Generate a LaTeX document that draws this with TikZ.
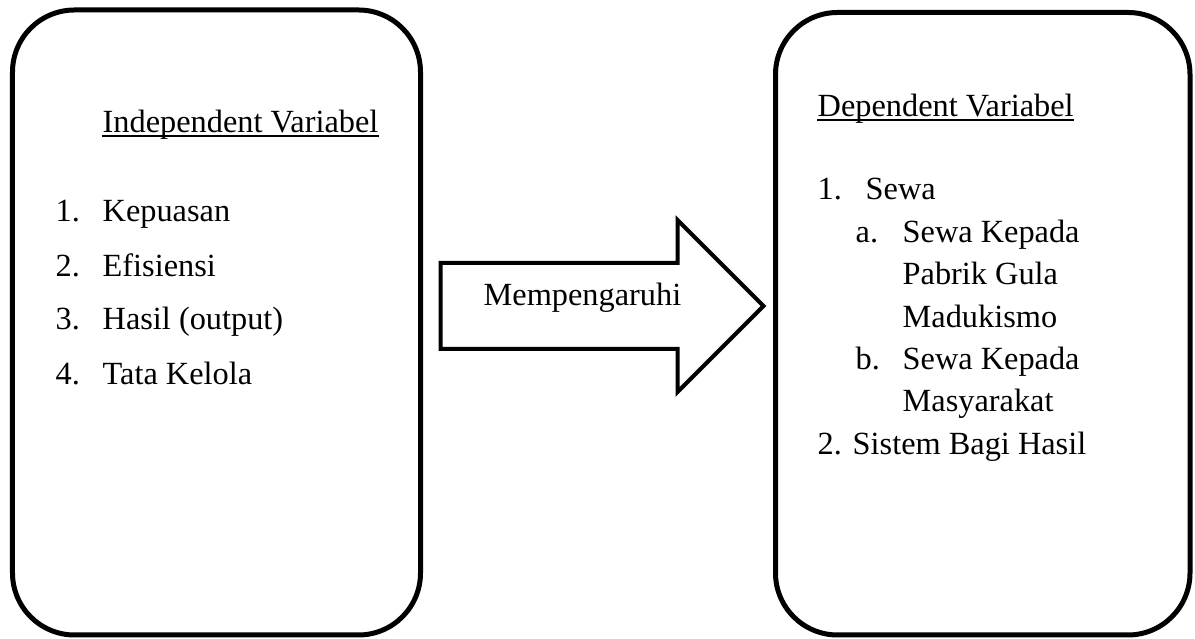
\documentclass[tikz,border=0pt]{standalone}
\usepackage{fontspec}
\setmainfont{Liberation Serif}
\usepackage{tikz}
\usetikzlibrary{shapes,arrows,positioning}

\begin{document}
\begin{tikzpicture}[
    % GLOBAL CFG
    font=\fontsize{9.2}{11}\selectfont,
    % Styles
    varbox/.style={% For the two big boxes
        rectangle,
        rounded corners=6.2mm,
        draw,
        line width=0.5mm,
        },
    bigarrow/.style={% For the arrow between the boxes
        single arrow,
        draw,
        line width=0.4mm,
        single arrow head extend=0.43cm,
        single arrow tip angle=90,
        inner xsep=0pt,
        inner ysep=0.41cm,
        },
    txt/.style={% For all texts
        anchor=base west,
        inner sep=0pt,
        },
    uline/.style={% Underline of the titles
        line width=0.5pt,
        },
    ]

%Start drawing the thing...
    % Draw the boxes
    \useasboundingbox (0,0) rectangle (11.95,-6.39);
    \node [varbox, minimum width=4.08cm, minimum height=6.25cm] (indep) at (2.165,-3.225) {};
    \node [varbox, minimum width=4.145cm, minimum height=6.225cm] (dep) at (9.8275,-3.2375) {};

    % Draw the arrow
    \node [bigarrow, minimum height=3.23cm, minimum width=1.68cm] (arr) at (5.805,-3.06) {};
    \node [txt] (pengaruh) at (4.83,-3.06) {Mempengaruhi};

    % Left texts
    \node [txt] (indeptitle) at (1.02,-1.33) {Independent Variabel};
    \node [txt] (n1) at (0.55,-2.22) {1.};
    \node [txt] (i1) at (1.02,-2.22) {Kepuasan};
    \node [txt] (n2) at (0.55,-2.77) {2.};
    \node [txt] (i2) at (1.02,-2.77) {Efisiensi};
    \node [txt] (n3) at (0.55,-3.30) {3.};
    \node [txt] (i3) at (1.02,-3.30) {Hasil (output)};
    \node [txt] (n4) at (0.55,-3.85) {4.};
    \node [txt] (i4) at (1.02,-3.85) {Tata Kelola};

    % Right texts
    \node [txt] (deptitle) at (8.17,-1.17) {Dependent Variabel};
    \node [txt] (m1) at (8.17,-2.00) {1.};
    \node [txt] (j1) at (8.65,-2.00) {Sewa};
    \node [txt] (ma) at (8.55,-2.43) {a.};
    \node [txt] (ja1) at (9.02,-2.43) {Sewa Kepada};
    \node [txt] (ja2) at (9.02,-2.85) {Pabrik Gula};
    \node [txt] (ja3) at (9.02,-3.28) {Madukismo};
    \node [txt] (mb) at (8.55,-3.70) {b.};
    \node [txt] (jb1) at (9.02,-3.70) {Sewa Kepada};
    \node [txt] (jb2) at (9.02,-4.12) {Masyarakat};
    \node [txt] (j2) at (8.17,-4.55) {2. Sistem Bagi Hasil};

    % Underlines
    \draw [uline] ([yshift=-0.03cm]indeptitle.base west) -- ([yshift=-0.03cm]indeptitle.base east);
    \draw [uline] ([yshift=-0.03cm]deptitle.base west) -- ([yshift=-0.03cm]deptitle.base east);

\end{tikzpicture}
\end{document}
